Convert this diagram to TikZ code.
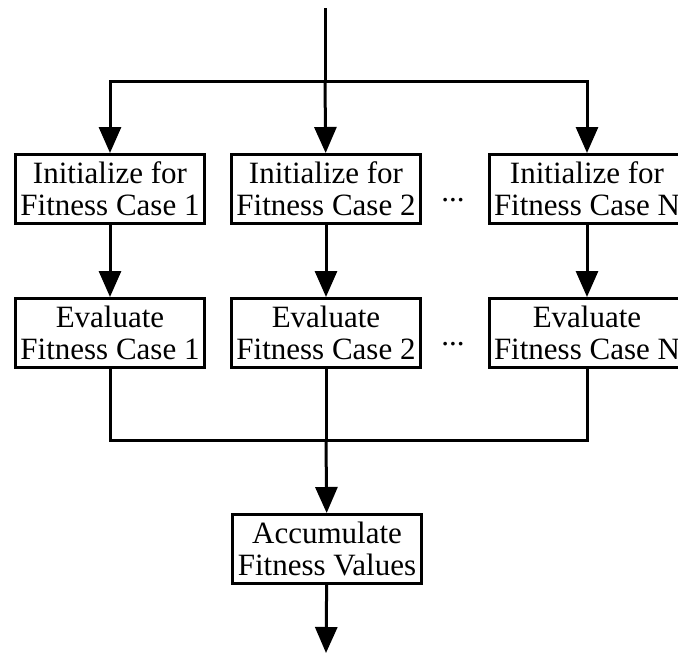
\documentclass[tikz,border=0pt]{standalone}
\usepackage{fontspec}
\setmainfont{Liberation Serif}
\usetikzlibrary{arrows.meta}
\begin{document}
\begin{tikzpicture}[x=1pt,y=-1pt,
  line width=3pt, line join=miter,
  stepbox/.style={draw, align=center, inner xsep=5pt, inner ysep=0pt,
    minimum height=69pt, font=\fontsize{31}{32}\selectfont},
  dotsnode/.style={anchor=base, inner sep=0pt, font=\fontsize{31}{32}\selectfont},
  flow/.style={-{Triangle[width=22pt,length=26pt]}}]
\useasboundingbox (0,0) rectangle (678,653);
\clip (0,0) rectangle (678,653);

% entry and fan-out
\coordinate (top) at (325,8);
\coordinate (split) at (325,81);

% initialization row
\node[stepbox] (init1) at (110,189) {Initialize for\\Fitness Case 1};
\node[stepbox] (init2) at (326,189) {Initialize for\\Fitness Case 2};
\node[stepbox] (init3) at (587,189) {Initialize for\\Fitness Case N};
\node[dotsnode] (dots1) at (453,201) {...};

% evaluation row
\node[stepbox] (eval1) at (110,333) {Evaluate\\Fitness Case 1};
\node[stepbox] (eval2) at (326,333) {Evaluate\\Fitness Case 2};
\node[stepbox] (eval3) at (587,333) {Evaluate\\Fitness Case N};
\node[dotsnode] (dots2) at (453,345) {...};

% merge and accumulation
\coordinate (merge) at (326,440);
\node[stepbox] (acc) at (327,549) {Accumulate\\Fitness Values};
\coordinate (exit) at (326,653);

\draw (top) -- (split);
\draw[flow] (split) -- (init2);
\draw[flow] (split) -| (init1);
\draw[flow] (split) -| (init3);

\draw[flow] (init1) -- (eval1);
\draw[flow] (init2) -- (eval2);
\draw[flow] (init3) -- (eval3);

\draw (eval1) |- (merge) -| (eval3);
\draw (eval2) -- (merge);
\draw[flow] (merge) -- (acc);
\draw[flow] (acc) -- (exit);
\end{tikzpicture}
\end{document}
